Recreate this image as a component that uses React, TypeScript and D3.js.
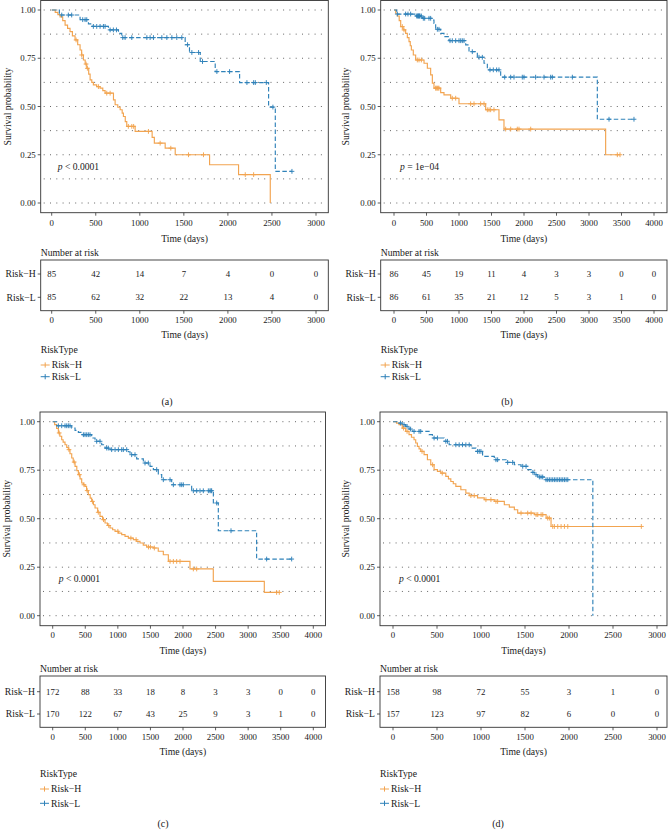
import React from "react";
import * as d3 from "d3";

// ---------------- DATA ----------------
// Panel (a)
const aHighTimes = [40, 70, 95, 125, 152, 180, 208, 235, 265, 295, 322, 340, 360, 380, 398, 420, 436, 455, 473, 510, 549, 580, 606, 701, 720, 750, 777, 800, 814, 835, 852, 947, 1140, 1165, 1288, 1402, 1792, 2121, 2481];
const aHighSurv = [0.988, 0.976, 0.964, 0.945, 0.922, 0.905, 0.888, 0.866, 0.845, 0.82, 0.793, 0.767, 0.741, 0.72, 0.698, 0.668, 0.638, 0.625, 0.612, 0.603, 0.595, 0.582, 0.569, 0.534, 0.509, 0.496, 0.483, 0.466, 0.448, 0.422, 0.397, 0.371, 0.34, 0.31, 0.284, 0.25, 0.198, 0.147, 0.0];
const aHighCensor = [277, 341, 390, 405, 530, 625, 663, 870, 909, 930, 1098, 1231, 1352, 1553, 1723, 2197, 2292];
const aLowTimes = [87, 322, 417, 460, 644, 758, 795, 1515, 1564, 1686, 1856, 2133, 2462, 2538];
const aLowSurv = [0.974, 0.95, 0.928, 0.915, 0.897, 0.879, 0.857, 0.82, 0.78, 0.733, 0.681, 0.624, 0.497, 0.164];
const aLowCensor = [114, 189, 227, 352, 379, 398, 473, 511, 549, 587, 606, 663, 700, 735, 807, 833, 909, 1080, 1117, 1155, 1250, 1307, 1364, 1420, 1477, 1542, 1591, 1667, 1712, 1875, 2019, 2216, 2292, 2311, 2436, 2511, 2727];

// Panel (b)
const bHighTimes = [26, 51, 80, 103, 140, 179, 205, 231, 250, 267, 297, 333, 462, 513, 564, 590, 615, 718, 769, 872, 1000, 1410, 1615, 1692, 3256];
const bHighSurv = [0.983, 0.969, 0.945, 0.914, 0.897, 0.879, 0.857, 0.836, 0.815, 0.793, 0.767, 0.741, 0.724, 0.698, 0.664, 0.621, 0.595, 0.572, 0.56, 0.543, 0.514, 0.483, 0.431, 0.383, 0.25];
const bHighCensor = [128, 154, 359, 385, 421, 641, 650, 667, 680, 692, 897, 949, 1179, 1231, 1333, 1385, 1436, 1462, 1487, 1538, 1718, 1795, 1897, 1923, 2103, 3436, 3477];
const bLowTimes = [41, 333, 436, 590, 615, 641, 718, 769, 846, 1103, 1154, 1282, 1385, 1436, 1641, 3128];
const bLowSurv = [0.979, 0.969, 0.957, 0.948, 0.931, 0.9, 0.879, 0.862, 0.841, 0.819, 0.784, 0.755, 0.724, 0.69, 0.652, 0.434];
const bLowCensor = [51, 179, 215, 256, 349, 360, 369, 377, 385, 393, 400, 421, 451, 472, 538, 564, 667, 692, 862, 897, 949, 1000, 1026, 1051, 1077, 1205, 1308, 1359, 1477, 1528, 1579, 1615, 1703, 1795, 1846, 1974, 2000, 2179, 2308, 2410, 2436, 2744, 3308, 3692];

// Panel (c)
const cHighTimes = [30, 60, 87, 110, 138, 160, 189, 215, 240, 265, 292, 315, 343, 370, 394, 420, 445, 470, 496, 520, 547, 575, 598, 625, 650, 690, 726, 765, 803, 840, 880, 920, 957, 1010, 1059, 1110, 1161, 1238, 1290, 1340, 1390, 1442, 1545, 1620, 1698, 1775, 2107, 2465, 3248];
const cHighSurv = [0.985, 0.965, 0.942, 0.925, 0.907, 0.895, 0.881, 0.868, 0.856, 0.835, 0.813, 0.792, 0.77, 0.748, 0.727, 0.705, 0.684, 0.675, 0.667, 0.645, 0.624, 0.606, 0.589, 0.572, 0.555, 0.533, 0.512, 0.495, 0.478, 0.465, 0.452, 0.443, 0.435, 0.426, 0.418, 0.409, 0.4, 0.392, 0.383, 0.375, 0.364, 0.354, 0.349, 0.332, 0.314, 0.28, 0.241, 0.177, 0.12];
const cHighCensor = [100, 250, 330, 410, 480, 530, 610, 700, 780, 860, 1000, 1200, 1280, 1470, 1500, 1560, 1801, 1852, 1903, 1954, 2159, 2210, 3437, 3478];
const cLowTimes = [61, 292, 343, 394, 445, 598, 650, 752, 803, 880, 1161, 1187, 1289, 1391, 1494, 1545, 1621, 1673, 1826, 2133, 2466, 2542, 3130];
const cLowSurv = [0.979, 0.967, 0.955, 0.945, 0.933, 0.916, 0.899, 0.881, 0.864, 0.856, 0.845, 0.83, 0.808, 0.787, 0.77, 0.753, 0.727, 0.701, 0.675, 0.644, 0.581, 0.438, 0.292];
const cLowCensor = [87, 138, 189, 215, 240, 266, 471, 496, 522, 547, 573, 675, 726, 829, 854, 905, 957, 1008, 1059, 1084, 1136, 1212, 1263, 1417, 1468, 1596, 1698, 1801, 1852, 1954, 1980, 2005, 2159, 2210, 2261, 2312, 2389, 2414, 2430, 2440, 2517, 2737, 3284, 3668];

// Panel (d)
const dHighTimes = [40, 68, 106, 144, 182, 210, 239, 258, 277, 296, 315, 353, 391, 429, 467, 505, 543, 600, 630, 657, 685, 714, 771, 828, 866, 961, 1037, 1151, 1265, 1322, 1379, 1417, 1607, 1740, 1796];
const dHighSurv = [0.993, 0.985, 0.967, 0.95, 0.933, 0.92, 0.907, 0.89, 0.873, 0.86, 0.847, 0.83, 0.804, 0.778, 0.753, 0.744, 0.735, 0.718, 0.705, 0.692, 0.68, 0.667, 0.649, 0.632, 0.619, 0.607, 0.598, 0.589, 0.572, 0.56, 0.546, 0.529, 0.521, 0.503, 0.46];
const dHighCensor = [120, 160, 330, 450, 560, 885, 923, 1056, 1113, 1170, 1189, 1455, 1531, 1569, 1626, 1645, 1683, 1702, 1758, 1777, 1815, 1834, 1872, 1910, 1948, 1986, 2822];
const dLowTimes = [68, 106, 144, 182, 220, 410, 448, 581, 638, 885, 942, 1018, 1151, 1284, 1379, 1455, 1531, 1569, 1607, 1645, 1720, 2271];
const dLowSurv = [0.993, 0.985, 0.976, 0.962, 0.95, 0.933, 0.916, 0.899, 0.881, 0.864, 0.847, 0.821, 0.804, 0.79, 0.778, 0.77, 0.753, 0.739, 0.727, 0.715, 0.701, 0.0];
const dLowCensor = [85, 125, 160, 200, 239, 296, 315, 467, 505, 600, 619, 714, 752, 790, 828, 866, 961, 980, 999, 1170, 1189, 1303, 1360, 1474, 1512, 1590, 1625, 1663, 1682, 1701, 1739, 1758, 1777, 1796, 1815, 1834, 1853, 1872, 1891, 1910, 1929, 1948, 1967, 1986];

// Risk tables
const aRiskH = [85, 42, 14, 7, 4, 0, 0];
const aRiskL = [85, 62, 32, 22, 13, 4, 0];
const bRiskH = [86, 45, 19, 11, 4, 3, 3, 0, 0];
const bRiskL = [86, 61, 35, 21, 12, 5, 3, 1, 0];
const cRiskH = [172, 88, 33, 18, 8, 3, 3, 0, 0];
const cRiskL = [170, 122, 67, 43, 25, 9, 3, 1, 0];
const dRiskH = [158, 98, 72, 55, 3, 1, 0];
const dRiskL = [157, 123, 97, 82, 6, 0, 0];

const xTicks3000 = [0, 500, 1000, 1500, 2000, 2500, 3000];
const xTicks4000 = [0, 500, 1000, 1500, 2000, 2500, 3000, 3500, 4000];
const yTicks = [0, 0.25, 0.5, 0.75, 1];
const gridVals = [0, 0.125, 0.25, 0.375, 0.5, 0.625, 0.75, 0.875, 1];

const pValues = ["< 0.0001", "= 1e\u221204", "< 0.0001", "< 0.0001"];
const captions = ["(a)", "(b)", "(c)", "(d)"];
const plotXTitles = ["Time (days)", "Time (days)", "Time (days)", "Time(days)"];
const groupNames = ["Risk\u2212H", "Risk\u2212L"];

// ---------------- STYLE / LAYOUT ----------------
const ORANGE = "#F2A450";
const BLUE = "#2F82B9";
const FONT = "'Liberation Serif', 'DejaVu Serif', serif";
const TXT = "#1a1a1a";

const rowTop = {
  yS1: 10, yS0: 203, boxTop: 0.5, boxBottom: 212.7, tickY: 223.3, xTitleY: 239,
  narY: 252.3, tblTop: 260, tblBot: 310.7, rowH: 274, rowL: 297.3, tblTickY: 320,
  tblTitleY: 335, legTitleY: 349.3, legHY: 365, legLY: 376.7, capY: 401,
};
const rowBottom = {
  yS1: 421.7, yS0: 615.7, boxTop: 412, boxBottom: 625.7, tickY: 635, xTitleY: 651,
  narY: 668.3, tblTop: 676, tblBot: 727.3, rowH: 691.7, rowL: 714, tblTickY: 737.3,
  tblTitleY: 751.7, legTitleY: 774, legHY: 789, legLY: 803.3, capY: 823.3,
};

const panels = [
  {
    row: rowTop, x0: 51.7, xEnd: 316, xMax: 3000, boxL: 40.7, boxR: 328.3, ticks: xTicks3000,
    yTitleX: 8, capX: 167,
    high: { t: aHighTimes, s: aHighSurv, c: aHighCensor }, low: { t: aLowTimes, s: aLowSurv, c: aLowCensor },
    riskH: aRiskH, riskL: aRiskL,
  },
  {
    row: rowTop, x0: 394, xEnd: 654, xMax: 4000, boxL: 380.7, boxR: 667, ticks: xTicks4000,
    yTitleX: 346, capX: 507,
    high: { t: bHighTimes, s: bHighSurv, c: bHighCensor }, low: { t: bLowTimes, s: bLowSurv, c: bLowCensor },
    riskH: bRiskH, riskL: bRiskL,
  },
  {
    row: rowBottom, x0: 52.7, xEnd: 313.3, xMax: 4000, boxL: 40, boxR: 325.5, ticks: xTicks4000,
    yTitleX: 6.5, capX: 163,
    high: { t: cHighTimes, s: cHighSurv, c: cHighCensor }, low: { t: cLowTimes, s: cLowSurv, c: cLowCensor },
    riskH: cRiskH, riskL: cRiskL,
  },
  {
    row: rowBottom, x0: 393, xEnd: 657, xMax: 3000, boxL: 380, boxR: 667, ticks: xTicks3000,
    yTitleX: 346, capX: 498,
    high: { t: dHighTimes, s: dHighSurv, c: dHighCensor }, low: { t: dLowTimes, s: dLowSurv, c: dLowCensor },
    riskH: dRiskH, riskL: dRiskL,
  },
];

function survAt(times: number[], surv: number[], t: number) {
  const i = d3.bisectRight(times, t);
  return i === 0 ? 1 : surv[i - 1];
}

function stepPath(times: number[], surv: number[], censor: number[], x: any, y: any) {
  const end = Math.max(times[times.length - 1], censor.length ? censor[censor.length - 1] : 0);
  let d = `M${x(0)},${y(1)}`;
  times.forEach((t, i) => {
    d += `H${x(t)}V${y(surv[i])}`;
  });
  d += `H${x(end)}`;
  return d;
}

function Panel({ p, idx }: { p: any; idx: number }) {
  const r = p.row;
  const x = d3.scaleLinear().domain([0, p.xMax]).range([p.x0, p.xEnd]);
  const y = d3.scaleLinear().domain([0, 1]).range([r.yS0, r.yS1]);
  const fs = 8.8;
  const ft = 9.7;
  const series = [
    { g: p.high, color: ORANGE, dash: undefined },
    { g: p.low, color: BLUE, dash: "4.5,2.5" },
  ];
  const cs = 2.4;
  return (
    <g fontFamily={FONT} fill={TXT}>
      {/* grid */}
      {gridVals.map((v) => (
        <line key={"g" + v} x1={p.boxL + 3} x2={p.boxR - 2} y1={y(v)} y2={y(v)}
          stroke="#555" strokeWidth={0.9} strokeDasharray="1,5.3" />
      ))}
      {/* curves */}
      {series.map((sr, k) => (
        <g key={"s" + k}>
          <path d={stepPath(sr.g.t, sr.g.s, sr.g.c, x, y)} fill="none" stroke={sr.color}
            strokeWidth={1.15} strokeDasharray={sr.dash} />
          {sr.g.c.map((t: number, j: number) => {
            const cx = x(t), cy = y(survAt(sr.g.t, sr.g.s, t));
            return (
              <path key={j} d={`M${cx - cs},${cy}H${cx + cs}M${cx},${cy - cs}V${cy + cs}`}
                stroke={sr.color} strokeWidth={0.95} fill="none" />
            );
          })}
        </g>
      ))}
      {/* p value */}
      <text x={p.x0 + 6} y={y(0.19)} dy="0.35em" fontSize={9.6}>
        <tspan fontStyle="italic">p</tspan> {pValues[idx]}
      </text>
      {/* box */}
      <rect x={p.boxL} y={r.boxTop} width={p.boxR - p.boxL} height={r.boxBottom - r.boxTop}
        fill="none" stroke="#333" strokeWidth={0.9} />
      {/* y axis */}
      {yTicks.map((v) => (
        <g key={"y" + v}>
          <line x1={p.boxL - 3} x2={p.boxL} y1={y(v)} y2={y(v)} stroke="#333" strokeWidth={0.8} />
          <text x={p.boxL - 5} y={y(v)} dy="0.35em" textAnchor="end" fontSize={fs}>{v.toFixed(2)}</text>
        </g>
      ))}
      <text transform={`translate(${p.yTitleX},${(r.yS0 + r.yS1) / 2}) rotate(-90)`} dy="0.35em"
        textAnchor="middle" fontSize={ft}>Survival probability</text>
      {/* x axis */}
      {p.ticks.map((t: number) => (
        <g key={"x" + t}>
          <line x1={x(t)} x2={x(t)} y1={r.boxBottom} y2={r.boxBottom + 3} stroke="#333" strokeWidth={0.8} />
          <text x={x(t)} y={r.tickY} dy="0.35em" textAnchor="middle" fontSize={fs}>{t}</text>
        </g>
      ))}
      <text x={(p.boxL + p.boxR) / 2} y={r.xTitleY} dy="0.35em" textAnchor="middle" fontSize={ft}>{plotXTitles[idx]}</text>

      {/* risk table */}
      <text x={p.boxL} y={r.narY} dy="0.35em" fontSize={ft}>Number at risk</text>
      <rect x={p.boxL} y={r.tblTop} width={p.boxR - p.boxL} height={r.tblBot - r.tblTop}
        fill="none" stroke="#333" strokeWidth={0.9} />
      {[{ vals: p.riskH, yy: r.rowH, name: groupNames[0] }, { vals: p.riskL, yy: r.rowL, name: groupNames[1] }].map((row, k) => (
        <g key={"r" + k}>
          <line x1={p.boxL - 3} x2={p.boxL} y1={row.yy} y2={row.yy} stroke="#333" strokeWidth={0.8} />
          <text x={p.boxL - 5} y={row.yy} dy="0.35em" textAnchor="end" fontSize={ft}>{row.name}</text>
          {row.vals.map((v: number, j: number) => (
            <text key={j} x={x(p.ticks[j])} y={row.yy} dy="0.35em" textAnchor="middle" fontSize={fs}>{v}</text>
          ))}
        </g>
      ))}
      {p.ticks.map((t: number) => (
        <g key={"tx" + t}>
          <line x1={x(t)} x2={x(t)} y1={r.tblBot} y2={r.tblBot + 3} stroke="#333" strokeWidth={0.8} />
          <text x={x(t)} y={r.tblTickY} dy="0.35em" textAnchor="middle" fontSize={fs}>{t}</text>
        </g>
      ))}
      <text x={(p.boxL + p.boxR) / 2} y={r.tblTitleY} dy="0.35em" textAnchor="middle" fontSize={ft}>Time (days)</text>

      {/* legend */}
      <text x={p.boxL} y={r.legTitleY} dy="0.35em" fontSize={ft}>RiskType</text>
      {[{ yy: r.legHY, c: ORANGE, name: groupNames[0] }, { yy: r.legLY, c: BLUE, name: groupNames[1] }].map((l, k) => (
        <g key={"l" + k}>
          <path d={`M${p.boxL},${l.yy}H${p.boxL + 9}M${p.boxL + 4.5},${l.yy - 2.6}V${l.yy + 2.6}`}
            stroke={l.c} strokeWidth={1} fill="none" />
          <text x={p.boxL + 11} y={l.yy} dy="0.35em" fontSize={ft}>{l.name}</text>
        </g>
      ))}
      <text x={p.capX} y={r.capY} dy="0.35em" textAnchor="middle" fontSize={10}>{captions[idx]}</text>
    </g>
  );
}

export default function App() {
  return (
    <svg width={668} height={839} viewBox="0 0 668 839"
      style={{ position: "absolute", left: 0, top: 0, background: "#fff" }}>
      <rect x={0} y={0} width={668} height={839} fill="#fff" />
      {panels.map((p, i) => (
        <Panel key={i} p={p} idx={i} />
      ))}
    </svg>
  );
}
